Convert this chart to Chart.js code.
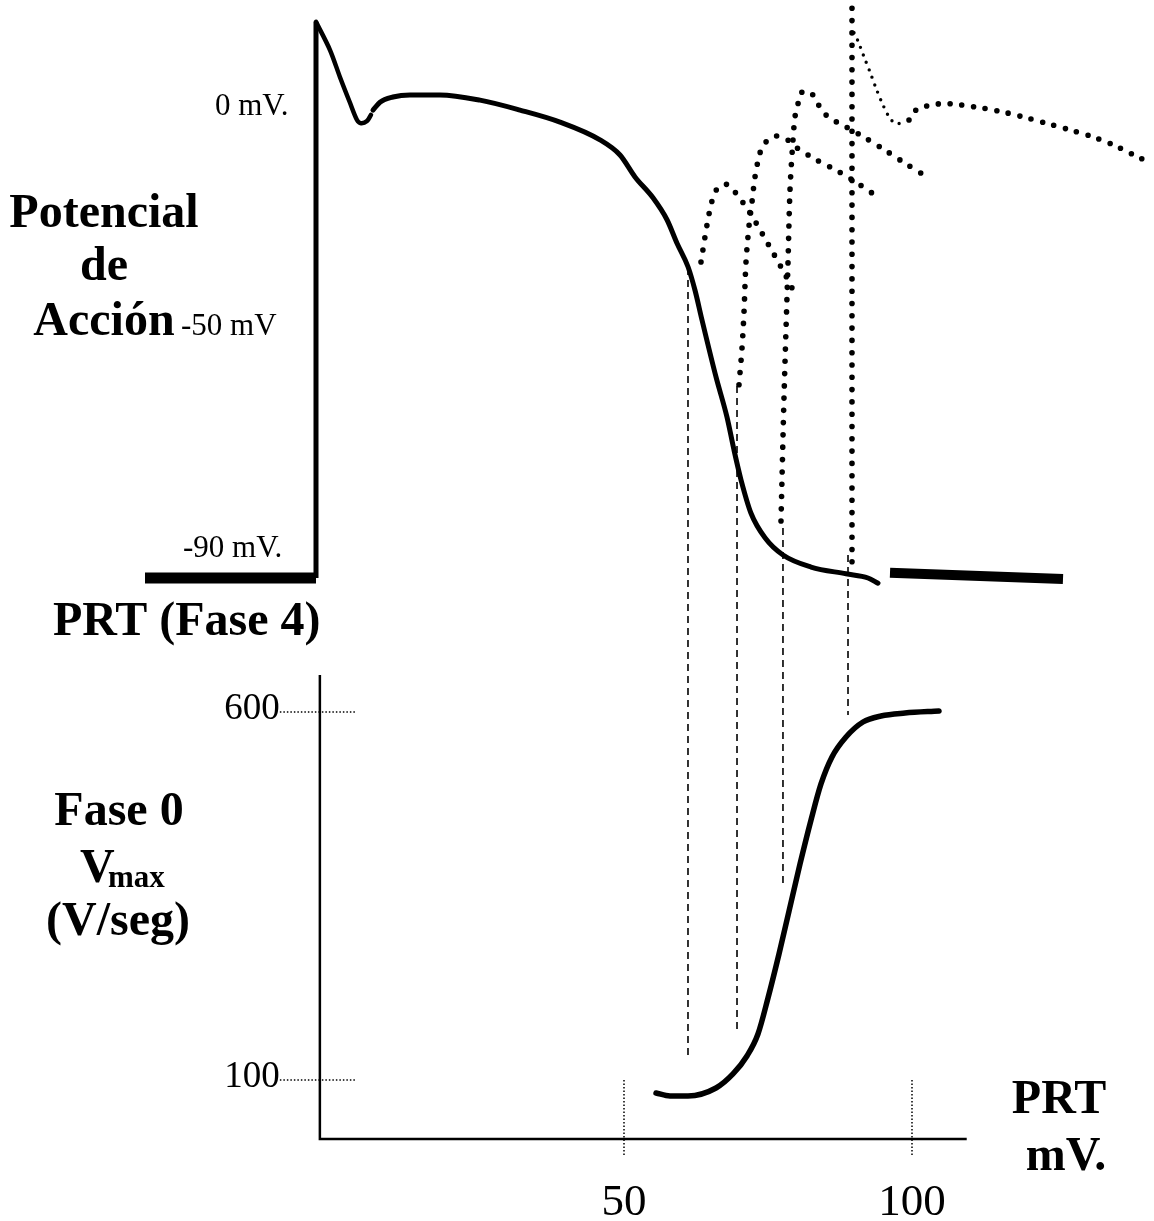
<!DOCTYPE html>
<html>
<head>
<meta charset="utf-8">
<title>Potencial de Acción y Vmax</title>
<script src="https://cdn.jsdelivr.net/npm/chart.js@4.4.1/dist/chart.umd.min.js"></script>
<style>
  html, body { margin: 0; padding: 0; background: #fff; }
  canvas { display: block; }
</style>
</head>
<body>
<canvas id="chart" width="1154" height="1221"></canvas>
<script>
// ── Top panel: action potential (time in ms, membrane potential in mV) ──
// resting line before the upstroke (phase 4)
const restTime = [-85.5, 0];
const restMv = [-90, -90];
// phase 0 upstroke
const upTime = [0, 0];
const upMv = [-90, 16.5];
// spike and early repolarisation notch
const spikeTime = [0, 7, 12, 17, 20.5, 22.5, 25.5, 27.5];
const spikeMv = [16.5, 11.1, 5.9, 1.0, -2.3, -2.9, -2.5, -1.3];
// plateau and repolarisation
const plateauTime = [28.5, 32, 38.5, 47, 62, 82, 102, 122, 142, 152, 159.5, 168.5, 175.5, 180.5, 186, 189.5, 193, 200, 205.5, 209, 212.5, 217.5, 224.5, 233.5, 247.5, 265, 276, 281];
const plateauMv = [-0.4, 1.1, 2.1, 2.5, 2.5, 1.5, -0.4, -2.7, -6.1, -9.0, -13.2, -17.2, -21.4, -25.9, -30.4, -34.9, -40.6, -51.5, -59.2, -65.5, -71.2, -77.6, -82.3, -85.6, -87.9, -89.2, -90.0, -91.0];
// resting line after the action potential
const restAfterTime = [287, 373.5];
const restAfterMv = [-89.0, -90.2];

// premature responses (dotted)
const early1Time = [192.5, 195.5, 198, 200.5, 205, 209.5, 217, 226, 235, 240.5];
const early1Mv = [-29.5, -22.4, -17.8, -15.5, -14.6, -16.1, -20.1, -26.0, -32.2, -36.4];
const early2Time = [211.5, 213, 214, 215, 216.5, 218, 219.5, 222, 224.5, 229.5, 235, 240, 250.5, 261, 271.5, 281.5];
const early2Mv = [-53.0, -46.0, -39.1, -29.5, -22.6, -18.0, -13.2, -8.6, -6.7, -5.4, -5.9, -7.5, -10.0, -12.1, -14.6, -17.2];
const early3Time = [232.5, 234, 236, 237, 238.5, 239.5, 241, 242.5, 247, 250.5, 253.5, 258.5, 264, 274.5, 285, 295, 305.5];
const early3Mv = [-79.1, -55.5, -29.7, -15.7, -6.1, -1.7, 0.8, 2.9, 3.1, 1.1, -0.8, -2.3, -3.4, -5.7, -8.2, -10.7, -13.2];
// full response from the resting potential
const fullUpTime = [268, 268];
const fullUpMv = [-86.9, 20.0];
const fullSpikeTime = [269, 271, 274, 277, 280, 283, 286.5, 289.5, 293.5];
const fullSpikeMv = [14.4, 12.8, 9.8, 6.9, 3.8, 1.0, -1.7, -2.9, -2.9];
const fullPlateauTime = [296.5, 300, 305.5, 311.5, 317.5, 329.5, 341.5, 353.5, 365, 377, 389, 400, 411, 416.5];
const fullPlateauMv = [-2.3, -0.4, 0.4, 0.8, 0.8, 0.2, -0.6, -1.7, -2.9, -4.2, -5.6, -7.3, -9.4, -10.3];

// ── Bottom panel: Vmax (V/seg) against PRT (mV) ──
const sigPrt = [55.56, 57.99, 61.11, 65.97, 68.92, 71.35, 73.26, 75.0, 76.91, 78.65, 80.56, 82.47, 84.2, 86.11, 88.54, 91.49, 94.62, 98.78, 104.69];
const sigVmax = [82.3, 78.3, 78.3, 89.1, 108.2, 132.6, 162.5, 211.4, 271.2, 329.6, 393.5, 453.3, 502.2, 538.9, 566.0, 586.4, 594.6, 598.6, 601.4];

// dashed guides from each take-off potential down to the Vmax curve
const guidePrt = [61.11, 69.62, 77.60, 88.89];
const guideFrom = [1203.3, 1042.9, 850.0, 813.3];
const guideTo = [131.3, 162.5, 362.2, 595.9];

// axes of the bottom panel
const prtTicks = [50, 100];
const vmaxTicks = [100, 600];
const prtAxisRange = [-2.8, 109.5];
const vmaxAxisRange = [19.8, 650.3];

const FONT = "'Liberation Serif', 'Times New Roman', serif";

const pts = (xs, ys) => xs.map((x, i) => ({ x, y: ys[i] }));

function trace(data, opts) {
  return Object.assign({
    data,
    showLine: true,
    pointRadius: 0,
    pointHoverRadius: 0,
    borderColor: '#000',
    backgroundColor: '#000',
    fill: false,
    borderWidth: 5,
    tension: 0,
    spanGaps: false,
    clip: false,
    xAxisID: 'xt',
    yAxisID: 'yTop',
    borderCapStyle: 'round',
    borderJoinStyle: 'round',
  }, opts);
}

const DOTS = { borderWidth: 5.6, borderDash: [0, 12.3], tension: 0.3 };

const datasets = [
  trace(pts(restTime, restMv), { borderWidth: 11, borderCapStyle: 'butt' }),
  trace(pts(upTime, upMv), { borderWidth: 5, borderCapStyle: 'butt' }),
  trace(pts(spikeTime, spikeMv), { borderWidth: 4.5, tension: 0.3 }),
  trace(pts(plateauTime, plateauMv), { borderWidth: 5, cubicInterpolationMode: 'monotone' }),
  trace(pts(restAfterTime, restAfterMv), { borderWidth: 10, borderCapStyle: 'butt' }),
  trace(pts(early1Time, early1Mv), DOTS),
  trace(pts(early2Time, early2Mv), DOTS),
  trace(pts(early3Time, early3Mv), DOTS),
  trace(pts(fullUpTime, fullUpMv), { borderWidth: 5.6, borderDash: [0, 12.3] }),
  trace(pts(fullSpikeTime, fullSpikeMv), { borderWidth: 3.4, borderDash: [0, 8], tension: 0.3 }),
  trace(pts(fullPlateauTime, fullPlateauMv), { borderWidth: 5.6, borderDash: [0, 11.8], tension: 0.3 }),
  ...guidePrt.map((p, i) => trace(pts([p, p], [guideFrom[i], guideTo[i]]), {
    xAxisID: 'x', yAxisID: 'yBot', borderWidth: 1.6, borderDash: [7, 5], borderCapStyle: 'butt',
  })),
  trace(pts(sigPrt, sigVmax), { xAxisID: 'x', yAxisID: 'yBot', borderWidth: 5.5, cubicInterpolationMode: 'monotone' }),
];

// free text of the figure (titles and potential marks)
const texts = [
  { t: '0 mV.', size: 31, bold: false, x: 215, y: 115, align: 'left' },
  { t: '-50 mV', size: 31, bold: false, x: 181, y: 335, align: 'left' },
  { t: '-90 mV.', size: 31, bold: false, x: 183, y: 557, align: 'left' },
  { t: 'Potencial', size: 48, bold: true, x: 104, y: 227, align: 'center' },
  { t: 'de', size: 48, bold: true, x: 104, y: 280, align: 'center' },
  { t: 'Acción', size: 48, bold: true, x: 104, y: 335, align: 'center' },
  { t: 'PRT (Fase 4)', size: 48, bold: true, x: 53, y: 635, align: 'left' },
  { t: 'Fase 0', size: 48, bold: true, x: 119, y: 825, align: 'center' },
  { t: 'V', size: 48, bold: true, x: 80, y: 882, align: 'left' },
  { t: 'max', size: 31, bold: true, x: 108, y: 887, align: 'left' },
  { t: '(V/seg)', size: 48, bold: true, x: 118, y: 935, align: 'center' },
  { t: 'PRT', size: 48, bold: true, x: 1059, y: 1113, align: 'center' },
  { t: 'mV.', size: 48, bold: true, x: 1066, y: 1170, align: 'center' },
];

const framePlugin = {
  id: 'frame',
  afterDatasetsDraw(chart) {
    const { ctx } = chart;
    const x = chart.scales.x, y = chart.scales.yBot;
    const x0 = x.getPixelForValue(prtAxisRange[0]);
    const x1 = x.getPixelForValue(prtAxisRange[1]);
    const y0 = y.getPixelForValue(vmaxAxisRange[0]);
    const y1 = y.getPixelForValue(vmaxAxisRange[1]);
    ctx.save();
    ctx.strokeStyle = '#000';
    ctx.fillStyle = '#000';

    // axis lines
    ctx.lineWidth = 2.5;
    ctx.setLineDash([]);
    ctx.beginPath();
    ctx.moveTo(x0, y1);
    ctx.lineTo(x0, y0);
    ctx.lineTo(x1, y0);
    ctx.stroke();

    // dotted tick marks
    ctx.lineWidth = 1.5;
    ctx.setLineDash([1.5, 2]);
    const tickTop = y.getPixelForValue(vmaxTicks[0]);
    prtTicks.forEach(v => {
      const px = x.getPixelForValue(v);
      ctx.beginPath();
      ctx.moveTo(px, tickTop);
      ctx.lineTo(px, y0 + 18);
      ctx.stroke();
    });
    vmaxTicks.forEach(v => {
      const py = y.getPixelForValue(v);
      ctx.beginPath();
      ctx.moveTo(x0 - 40, py);
      ctx.lineTo(x0 + 36, py);
      ctx.stroke();
    });
    ctx.setLineDash([]);

    // tick labels
    ctx.textBaseline = 'alphabetic';
    ctx.font = `45px ${FONT}`;
    ctx.textAlign = 'center';
    prtTicks.forEach(v => ctx.fillText(String(v), x.getPixelForValue(v), y0 + 76));
    ctx.font = `37px ${FONT}`;
    ctx.textAlign = 'right';
    vmaxTicks.forEach(v => ctx.fillText(String(v), x0 - 40, y.getPixelForValue(v) + 7));

    // free text
    texts.forEach(l => {
      ctx.font = `${l.bold ? 'bold ' : ''}${l.size}px ${FONT}`;
      ctx.textAlign = l.align;
      ctx.fillText(l.t, l.x, l.y);
    });
    ctx.restore();
  }
};

new Chart(document.getElementById('chart'), {
  type: 'scatter',
  data: { datasets },
  options: {
    responsive: false,
    animation: false,
    devicePixelRatio: 1,
    layout: { padding: 0 },
    events: [],
    plugins: { legend: { display: false }, tooltip: { enabled: false } },
    scales: {
      xt: { type: 'linear', axis: 'x', position: 'bottom', display: false, min: -158, max: 419 },
      yTop: { type: 'linear', axis: 'y', position: 'left', display: false, min: -213.13, max: 20.68 },
      x: { type: 'linear', axis: 'x', position: 'bottom', display: false, min: -58.333, max: 142.014 },
      yBot: { type: 'linear', axis: 'y', position: 'left', display: false, min: -91.58, max: 1567.39 },
    },
  },
  plugins: [framePlugin],
});
</script>
</body>
</html>
